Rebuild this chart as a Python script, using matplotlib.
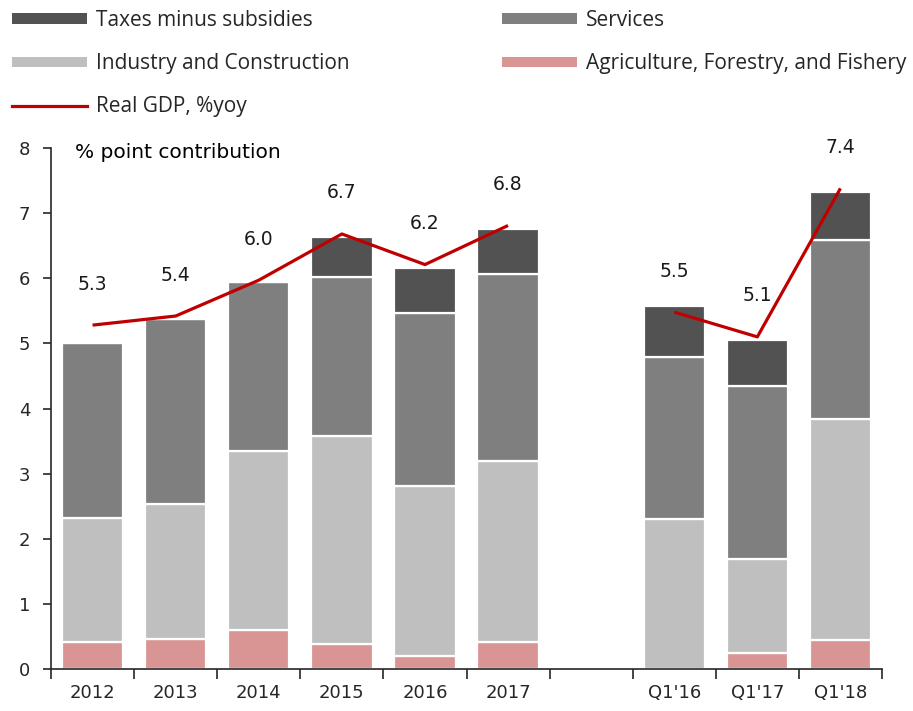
import numpy as np
import matplotlib
matplotlib.use("Agg")
import matplotlib.pyplot as plt
from matplotlib.patches import Patch
from matplotlib.lines import Line2D

nan = np.nan
categories = ["2012", "2013", "2014", "2015", "2016", "2017", "", "Q1'16", "Q1'17", "Q1'18"]
agriculture = [0.41, 0.46, 0.60, 0.39, 0.20, 0.42, nan, 0.00, 0.24, 0.45]
industry = [1.91, 2.08, 2.74, 3.19, 2.61, 2.77, nan, 2.31, 1.45, 3.39]
services = [2.68, 2.84, 2.60, 2.44, 2.66, 2.87, nan, 2.48, 2.66, 2.74]
taxes = [0.00, 0.00, 0.00, 0.62, 0.68, 0.70, nan, 0.79, 0.70, 0.74]
real_gdp = [5.28, 5.42, 5.97, 6.68, 6.21, 6.81, nan, 5.48, 5.10, 7.38]

series_names = ["Taxes minus subsidies", "Services", "Industry and Construction",
                "Agriculture, Forestry, and Fishery", "Real GDP, %yoy"]
col_tax = "#525252"
col_srv = "#7f7f7f"
col_ind = "#bfbfbf"
col_agr = "#d99594"
col_gdp = "#c00000"

fig = plt.figure(figsize=(9.13, 7.11), dpi=100)
ax = fig.add_axes([51/913, 42/711, 831/913, 521/711])

x = np.arange(len(categories))
a = np.array(agriculture, dtype=float)
i = np.array(industry, dtype=float)
s = np.array(services, dtype=float)
t = np.array(taxes, dtype=float)
w = 0.74
kw = dict(width=w, edgecolor="white", linewidth=1.6)
ax.bar(x, a, color=col_agr, **kw)
ax.bar(x, i, bottom=a, color=col_ind, **kw)
ax.bar(x, s, bottom=a + i, color=col_srv, **kw)
ax.bar(x, t, bottom=a + i + s, color=col_tax, **kw)

g = np.array(real_gdp, dtype=float)
ax.plot(x, g, color=col_gdp, linewidth=2.3, solid_capstyle="butt", zorder=5)
for xi, gi in zip(x, g):
    if np.isfinite(gi):
        ax.annotate(f"{gi:.1f}", (xi, gi), xytext=(0, 29.5), textcoords="offset points",
                    ha="center", va="center", fontsize=13.5, color="#1a1a1a",
                    family="DejaVu Sans")

ax.set_xlim(-0.5, len(categories) - 0.5)
ax.set_ylim(0, 8)
ax.set_xticks(np.arange(-0.5, len(categories) + 0.5, 1.0))
ax.set_xticklabels([])
ax.set_xticks(x, minor=True)
ax.set_xticklabels(categories, minor=True, fontsize=13, color="#262626", family="DejaVu Sans")
ax.tick_params(axis="x", which="major", direction="out", length=7, width=1.2, color="#262626")
ax.tick_params(axis="x", which="minor", length=0, pad=11)
ax.set_yticks(range(0, 9))
ax.tick_params(axis="y", direction="out", length=6, width=1.2, color="#262626",
               labelsize=13, labelcolor="#262626", pad=9)
for lab in ax.get_yticklabels():
    lab.set_family("DejaVu Sans")
for side in ["top", "right"]:
    ax.spines[side].set_visible(False)
for side in ["left", "bottom"]:
    ax.spines[side].set_linewidth(1.2)
    ax.spines[side].set_color("#262626")

ax.text(0.029, 0.992, "% point contribution", transform=ax.transAxes, ha="left", va="center",
        fontsize=14.5, family="DejaVu Sans", color="black")

h_tax = Patch(facecolor=col_tax, edgecolor="none")
h_srv = Patch(facecolor=col_srv, edgecolor="none")
h_ind = Patch(facecolor=col_ind, edgecolor="none")
h_agr = Patch(facecolor=col_agr, edgecolor="none")
h_gdp = Line2D([], [], color=col_gdp, linewidth=2.3)

lkw = dict(frameon=False, loc="upper left", borderpad=0, borderaxespad=0,
           handlelength=3.6, handleheight=0.38, handletextpad=0.45, labelspacing=1.06,
           prop={"family": "Open Sans", "size": 15}, labelcolor="#262626")
leg1 = fig.legend([h_tax, h_ind, h_gdp], [series_names[0], series_names[2], series_names[4]],
                  bbox_to_anchor=(12/913, 1 - 10/711), **lkw)
leg2 = fig.legend([h_srv, h_agr], [series_names[1], series_names[3]],
                  bbox_to_anchor=(502/913, 1 - 10/711), **lkw)

fig.savefig("out.png", dpi=100)
